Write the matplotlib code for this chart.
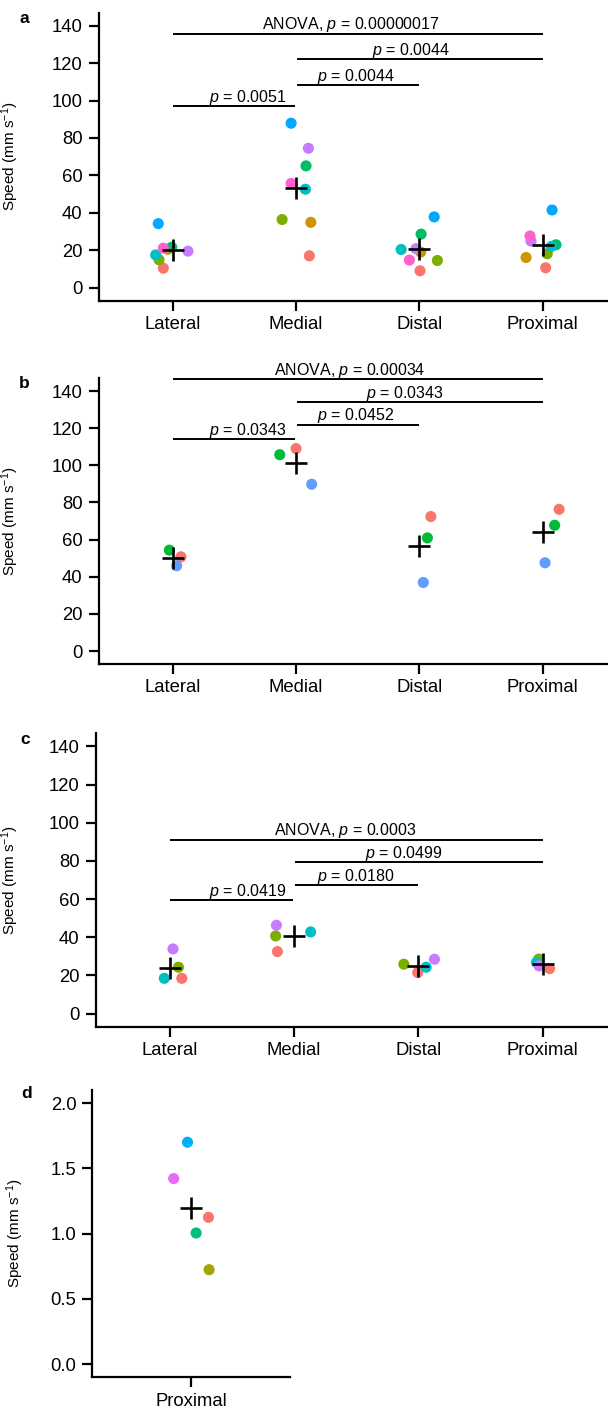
import numpy as np
import matplotlib
matplotlib.use('Agg')
import matplotlib.pyplot as plt

plt.rcParams['font.family'] = ['Liberation Sans', 'DejaVu Sans']
plt.rcParams['mathtext.fontset'] = 'custom'
plt.rcParams['mathtext.rm'] = 'Liberation Sans'
plt.rcParams['mathtext.it'] = 'Liberation Sans:italic'

W, H = 608, 1412

sites = ['Lateral', 'Medial', 'Distal', 'Proximal']

# panel a: 8 animals
colors_a = ['#F8766D', '#CD9600', '#7CAE00', '#00BE67', '#00BFC4', '#00A9FF', '#C77CFF', '#FF61CC']
speed_a = [
    [10.4, 20.5, 14.9, 21.6, 17.5, 34.2, 19.5, 21.1],
    [17.0, 34.9, 36.4, 65.1, 52.6, 87.9, 74.5, 55.7],
    [9.0, 19.0, 14.5, 28.6, 20.4, 37.8, 20.8, 14.7],
    [10.6, 16.1, 18.1, 22.9, 22.0, 41.5, 24.9, 27.6],
]
jitter_a = [
    [-0.076, -0.04, -0.111, -0.008, -0.138, -0.117, 0.124, -0.076],
    [0.108, 0.12, -0.113, 0.081, 0.076, -0.04, 0.10, -0.04],
    [0.005, 0.011, 0.146, 0.014, -0.148, 0.12, -0.027, -0.081],
    [0.024, -0.135, 0.037, 0.108, 0.07, 0.076, -0.095, -0.103],
]
pvals_a = ['ANOVA, $p$ = 0.00000017', '$p$ = 0.0044', '$p$ = 0.0044', '$p$ = 0.0051']
bar_y_a = [135.8, 122.4, 108.2, 97.1]

# panel b: 3 animals
colors_b = ['#F8766D', '#00BA38', '#619CFF']
speed_b = [
    [50.7, 54.3, 45.9],
    [109.0, 105.7, 89.8],
    [72.4, 60.9, 36.9],
    [76.3, 67.7, 47.5],
]
jitter_b = [
    [0.067, -0.027, 0.032],
    [0.0, -0.132, 0.127],
    [0.093, 0.065, 0.032],
    [0.133, 0.097, 0.019],
]
pvals_b = ['ANOVA, $p$ = 0.00034', '$p$ = 0.0343', '$p$ = 0.0452', '$p$ = 0.0343']
bar_y_b = [146.3, 134.1, 121.9, 114.0]

# panel c: 4 animals
colors_c = ['#F8766D', '#7CAE00', '#00BFC4', '#C77CFF']
speed_c = [
    [18.5, 24.3, 18.5, 33.9],
    [32.5, 40.7, 42.8, 46.3],
    [21.5, 25.9, 24.3, 28.5],
    [23.6, 28.6, 26.9, 25.0],
]
jitter_c = [
    [0.095, 0.068, -0.046, 0.024],
    [-0.135, -0.149, 0.133, -0.143],
    [-0.005, -0.117, 0.063, 0.13],
    [0.057, -0.03, -0.049, -0.028],
]
pvals_c = ['ANOVA, $p$ = 0.0003', '$p$ = 0.0499', '$p$ = 0.0180', '$p$ = 0.0419']
bar_y_c = [91.2, 79.4, 67.3, 59.6]

# panel d: proximal only, 5 animals
colors_d = ['#F8766D', '#A3A500', '#00BF7D', '#00B0F6', '#E76BF3']
speed_d = [1.125, 0.724, 1.005, 1.70, 1.422]
jitter_d = [0.105, 0.109, 0.03, -0.022, -0.106]

# comparisons (from, to) and where the p text sits
pairs = [(0, 3), (1, 3), (1, 2), (0, 1)]
text_x = [[1.444, 1.929, 1.490, 0.611],
          [1.436, 1.88, 1.487, 0.611],
          [1.41, 1.887, 1.497, 0.628]]


def make_axes(fig, l, r, t, b):
    return fig.add_axes([l / W, 1 - b / H, (r - l) / W, (b - t) / H])


def style(ax, label_x):
    for s in ['top', 'right']:
        ax.spines[s].set_visible(False)
    for s in ['left', 'bottom']:
        ax.spines[s].set_linewidth(1.6)
    ax.tick_params(width=1.6, length=7, labelsize=13.3, colors='black')
    ax.tick_params(axis='x', pad=4)
    ax.tick_params(axis='y', pad=4.5)
    ax.set_ylabel('Speed (mm s$^{-1}$)', fontsize=11)
    ax.yaxis.set_label_coords(label_x, 0.5)


fig = plt.figure(figsize=(W / 100, H / 100), dpi=100)

panels = [
    (speed_a, jitter_a, colors_a, pvals_a, bar_y_a, (98.7, 616.7, 12.7, 300.7), 'a', (19, 23)),
    (speed_b, jitter_b, colors_b, pvals_b, bar_y_b, (98.7, 616.7, 378, 664), 'b', (19, 388)),
    (speed_c, jitter_c, colors_c, pvals_c, bar_y_c, (95.5, 617, 733, 1027), 'c', (20, 744)),
]

for k, (speed, jit, cols, pv, bary, box, letter, lpos) in enumerate(panels):
    ax = make_axes(fig, *box)
    for i in range(len(sites)):
        xs = [i + j for j in jit[i]]
        ax.scatter(xs, speed[i], s=64, c=cols, linewidths=0, zorder=2)
        ax.plot(i, np.mean(speed[i]), marker='+', ms=16, mew=1.9,
                color='black', zorder=3)
    for n, (i0, i1) in enumerate(pairs):
        x0 = i0 + (0.01 if i0 == 1 else 0)
        x1 = i1 - (0.01 if i1 == 1 else 0)
        ax.plot([x0, x1], [bary[n], bary[n]], color='black', lw=1.4,
                clip_on=False, solid_capstyle='butt')
        ax.annotate(pv[n], (text_x[k][n], bary[n]), xytext=(0, 3),
                    textcoords='offset points', ha='center', va='baseline',
                    fontsize=11.5, annotation_clip=False)
    ax.set_xlim(-0.6, 3.6)
    ax.set_ylim(-7, 147)
    ax.set_xticks(range(len(sites)))
    ax.set_xticklabels(sites)
    ax.set_yticks(np.arange(0, 141, 20))
    style(ax, (21 - box[0]) / (box[1] - box[0]))
    fig.text(lpos[0] / W, 1 - lpos[1] / H, letter, fontsize=12.5, fontweight='bold',
             ha='left', va='baseline')

# panel d
box = (92.3, 290, 1090, 1377.3)
ax = make_axes(fig, *box)
ax.scatter(jitter_d, speed_d, s=64, c=colors_d, linewidths=0, zorder=2)
ax.plot(0, np.mean(speed_d), marker='+', ms=16, mew=1.9, color='black', zorder=3)
ax.set_xlim(-0.6, 0.6)
ax.set_ylim(-0.1, 2.1)
ax.set_xticks([0])
ax.set_xticklabels(['Proximal'])
ax.set_yticks(np.arange(0, 2.01, 0.5))
ax.set_yticklabels(['%.1f' % v for v in np.arange(0, 2.01, 0.5)])
style(ax, (26 - box[0]) / (box[1] - box[0]))
fig.text(21 / W, 1 - 1098 / H, 'd', fontsize=12.5, fontweight='bold',
         ha='left', va='baseline')

plt.savefig('out.png', dpi=100)
